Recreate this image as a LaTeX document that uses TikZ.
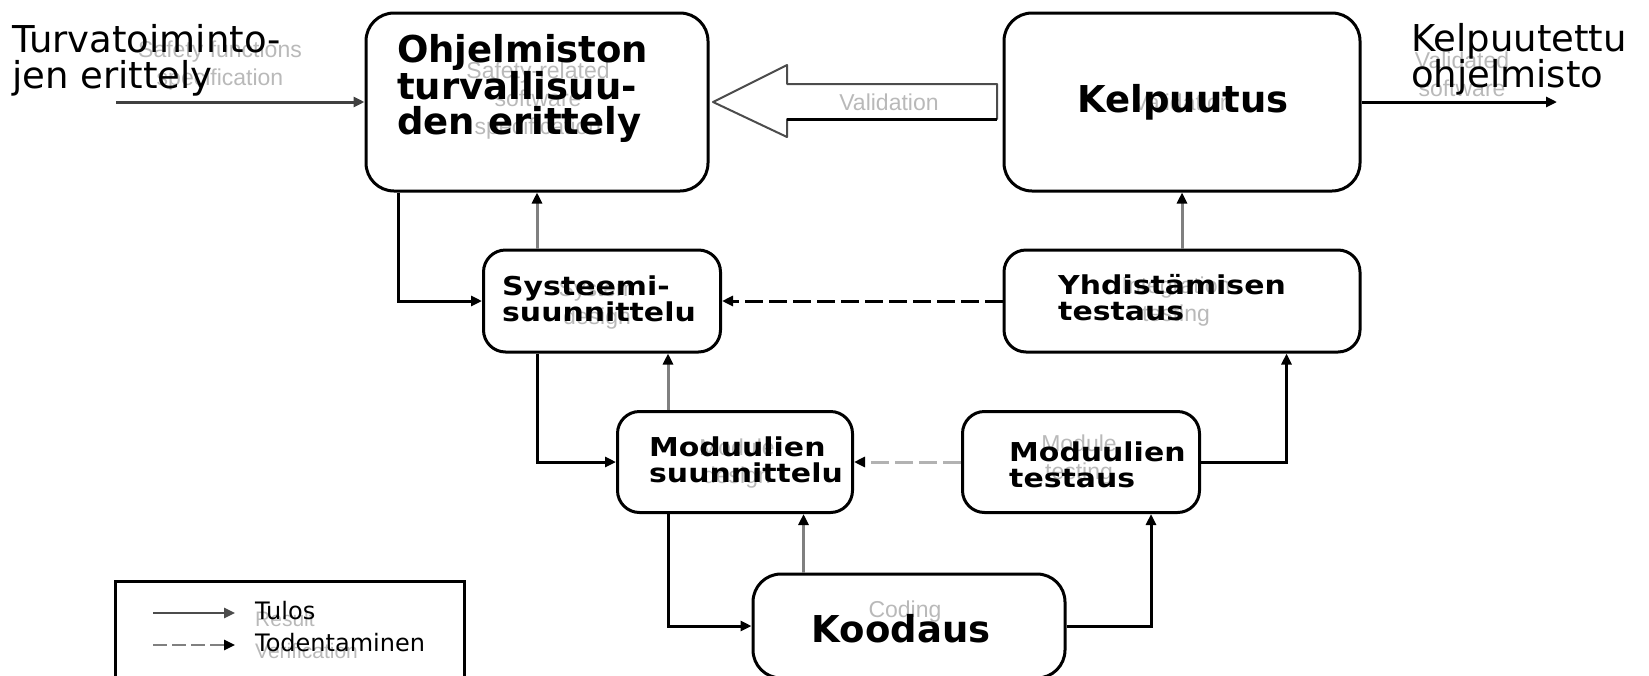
\documentclass[tikz,border=0pt]{standalone}
\usepackage{fontspec}
\setmainfont{DejaVu Sans}
\newfontfamily\boxfont[FakeStretch=1.15]{DejaVu Sans}
\newfontfamily\engfont{Liberation Sans}
\usetikzlibrary{arrows.meta}
\newcommand{\pxfont}[2]{\fontsize{#1}{#2}\selectfont}

\begin{document}
\begin{tikzpicture}[x=1pt, y=-1pt,
  box/.style={draw, line width=3pt, rounded corners=28pt},
  smallbox/.style={draw, line width=3pt, rounded corners=22pt},
  result/.style={-{Triangle[length=11pt,width=10pt]}, line width=3pt},
  verif/.style={-{Triangle[length=11pt,width=10pt,color=black]}, line width=3pt, gray},
  resultdash/.style={result, dash pattern=on 18pt off 6pt},
  verifdash/.style={verif, gray!60, dash pattern=on 18pt off 6pt},
  bigtxt/.style={inner sep=0, align=left, font=\bfseries\pxfont{37}{35}},
  boxtxt/.style={inner sep=0, align=left, font=\boxfont\bfseries\pxfont{26}{26}},
  sidetxt/.style={inner sep=0, align=left, font=\pxfont{37}{36}},
  en/.style={inner sep=0, align=center, text=gray!55, font=\engfont\pxfont{23}{28}}]

\useasboundingbox (0,0) rectangle (1649,675);
\clip (0,0) rectangle (1649,675);

% boxes
\node[box, minimum width=342pt, minimum height=178pt] (spec) at (537,102) {};
\node[box, minimum width=356pt, minimum height=178pt] (valid) at (1182,102) {};
\node[smallbox, minimum width=237pt, minimum height=102pt] (sysd) at (602,301) {};
\node[smallbox, minimum width=356pt, minimum height=102pt] (integ) at (1182,301) {};
\node[smallbox, minimum width=235pt, minimum height=101pt] (modd) at (735,462) {};
\node[smallbox, minimum width=237pt, minimum height=101pt] (modt) at (1081,462) {};
\node[box, minimum width=312pt, minimum height=104pt] (cod) at (909,626) {};

% old english labels underneath
\node[en] (in-en) at (220,66) {Safety functions\\specification};
\node[en] (spec-en) at (538,101) {Safety-related\\software\\specification};
\node[en] (arrow-en) at (889,102) {Validation};
\node[en] (valid-en) at (1183,102) {Validation};
\node[en] (out-en) at (1462,74) {Validated\\software};
\node[en] (sysd-en) at (597,305) {System\\design};
\node[en] (integ-en) at (1176,302) {Integration\\testing};
\node[en] (modd-en) at (737,464) {Module\\design};
\node[en] (modt-en) at (1079,460) {Module\\testing};
\node[en] (cod-en) at (905,612) {Coding};

% finnish labels
\node[bigtxt, anchor=west] (spec-fi) at (397,88) {Ohjelmiston\\turvallisuu-\\den erittely};
\node[bigtxt] (valid-fi) at (1183,102) {Kelpuutus};
\node[bigtxt] (cod-fi) at (901,629) {Koodaus};
\node[boxtxt, anchor=west] (sysd-fi) at (502,299) {Systeemi-\\suunnittelu};
\node[boxtxt, anchor=west] (integ-fi) at (1058,298) {Yhdistämisen\\testaus};
\node[boxtxt, anchor=west] (modd-fi) at (649,460) {Moduulien\\suunnittelu};
\node[boxtxt, anchor=west] (modt-fi) at (1009,465) {Moduulien\\testaus};
\node[sidetxt, anchor=west] (in-fi) at (12,60) {Turvatoiminto-\\jen erittely};
\node[sidetxt, anchor=west] (out-fi) at (1411,59) {Kelpuutettu\\ohjelmisto};

% in and out
\coordinate (in) at (116,102);
\coordinate (out) at (1557,102);
\draw[result, black!75] (in) -- (spec);
\draw[result] (valid) -- (out);

% validation arrow
\draw[line width=2pt, black!70, line join=round] (713,102) -- (787,65) -- (787,84) -- (997,84)
  -- (997,119) -- (787,119) -- (787,137) -- cycle;
\draw[line width=3pt] (787,119) -- (997,119);

% results going down
\draw[result] ([xshift=34pt]spec.south west) |- (sysd);
\draw[result] (spec.south |- sysd.south) |- (modd);
\draw[result] ([xshift=52pt]modd.south west) |- (cod);
\draw[result] (cod) -| ([xshift=-50pt]modt.south east);
\draw[result] (modt) -| ([xshift=-75pt]integ.south east);
\draw[resultdash] (integ) -- (sysd);
\draw[verifdash] (modt) -- (modd);

% verification going up
\draw[verif] (sysd.north -| spec.south) -- (spec.south);
\draw[verif] ([xshift=52pt]modd.north west) -- ([xshift=52pt]modd.north west |- sysd.south);
\draw[verif] ([xshift=52pt]cod.north west) -- ([xshift=52pt]cod.north west |- modd.south);
\draw[verif] (integ) -- (valid);

% legend
\node[draw, line width=3pt, anchor=north west, minimum width=349pt, minimum height=140pt] (legend) at (114,580) {};
\coordinate (res-a) at (153,613);
\coordinate (res-b) at (235,613);
\coordinate (ver-a) at (153,645);
\coordinate (ver-b) at (235,645);
\draw[result, line width=2.5pt, black!70] (res-a) -- (res-b);
\draw[verif, line width=2.5pt, dash pattern=on 14pt off 5pt] (ver-a) -- (ver-b);
\node[en, anchor=west, font=\engfont\pxfont{21}{21}] (res-en) at (255,619) {Result};
\node[en, anchor=west, font=\engfont\pxfont{21}{21}] (ver-en) at (255,651) {Verification};
\node[inner sep=0, anchor=west, font=\pxfont{24}{24}] (res-fi) at (255,611) {Tulos};
\node[inner sep=0, anchor=west, font=\pxfont{24}{24}] (ver-fi) at (255,643) {Todentaminen};

\end{tikzpicture}
\end{document}
